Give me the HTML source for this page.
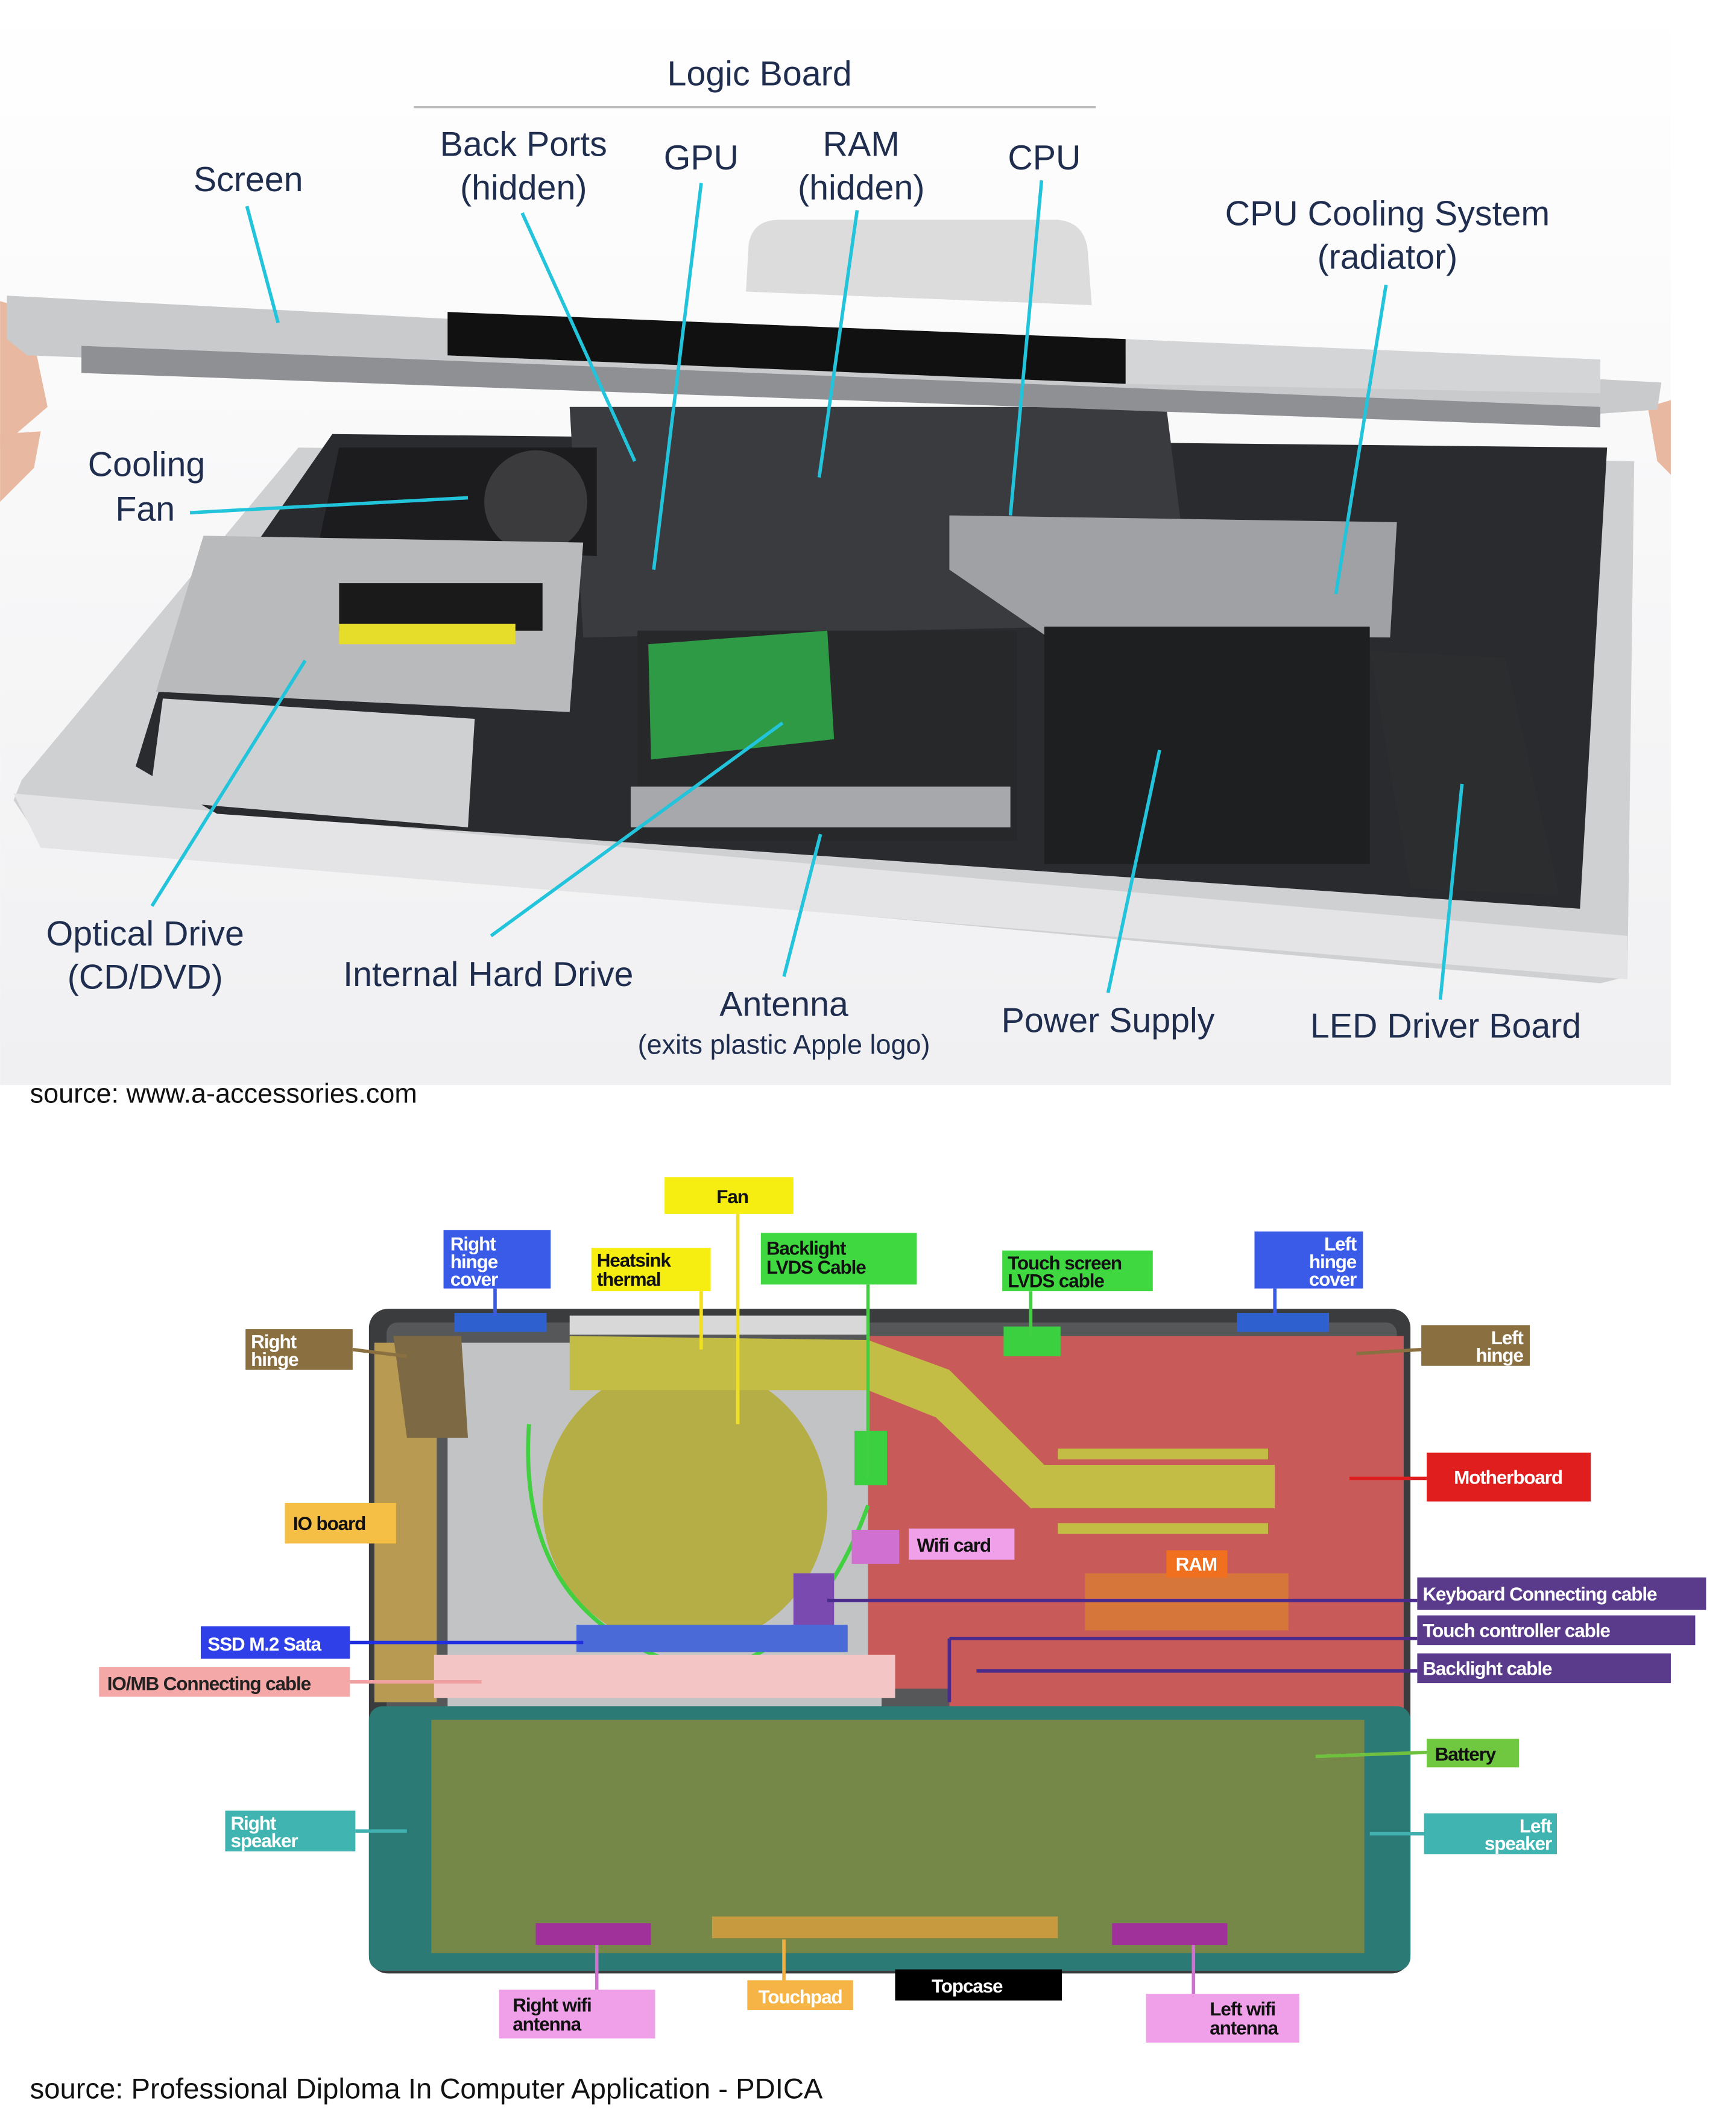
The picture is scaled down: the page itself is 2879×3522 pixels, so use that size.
<!DOCTYPE html>
<html><head><meta charset="utf-8"><style>
html,body{margin:0;padding:0;background:#fff;}
svg{display:block;}
text{font-family:"Liberation Sans",sans-serif;}
.n{fill:#1f2d4f;font-size:25.5px;text-anchor:middle;}
.c{stroke:#22c4dc;stroke-width:2.5;fill:none;}
.b{font-size:14px;font-weight:bold;letter-spacing:-0.5px;}
</style></head><body>
<svg width="2879" height="3522" viewBox="0 0 1280 1566" xmlns="http://www.w3.org/2000/svg">
<defs>
<linearGradient id="bg" x1="0" y1="0" x2="0" y2="1"><stop offset="0" stop-color="#ffffff"/><stop offset="1" stop-color="#f0f0f2"/></linearGradient>
</defs>
<rect width="1280" height="1566" fill="#fff"/>
<rect x="0" y="0" width="1232" height="800" fill="url(#bg)"/>
<!-- stand -->
<path d="M550,215 L552,180 Q555,162 575,162 L780,162 Q800,164 802,185 L805,225 Z" fill="#dcdcdc"/>
<!-- hands -->
<path d="M0,222 L20,228 L35,300 L0,330 Z" fill="#e8b9a0"/>
<path d="M0,320 L30,318 L25,345 L0,370 Z" fill="#e8b9a0"/>
<path d="M1215,300 L1232,295 L1232,350 L1222,340 Z" fill="#e8b9a0"/>
<!-- tray body -->
<path d="M220,330 L1205,340 L1200,720 L1180,725 L30,620 L10,590 L16,575 Z" fill="#cfd0d2"/>
<path d="M10,585 L1200,690 L1200,722 L30,625 Z" fill="#e4e4e6"/>
<!-- interior dark -->
<path d="M245,320 L1185,330 L1165,670 L160,600 L100,565 L120,500 Z" fill="#2a2b2e"/>
<!-- logic board -->
<path d="M420,300 L860,300 L880,460 L430,470 Z" fill="#3a3b3e"/>
<!-- fan area -->
<path d="M250,330 L440,330 L440,410 L235,400 Z" fill="#1c1c1e"/>
<circle cx="395" cy="370" r="38" fill="#3b3b3d"/>
<!-- optical drive -->
<path d="M150,395 L430,400 L420,525 L115,510 Z" fill="#b9babc"/>
<rect x="250" y="430" width="150" height="35" fill="#1a1a1a"/>
<rect x="250" y="460" width="130" height="15" fill="#e6dc2a"/>
<path d="M120,515 L350,530 L345,610 L110,590 Z" fill="#cfd0d2"/>
<!-- hdd -->
<rect x="470" y="465" width="280" height="155" fill="#27282a"/>
<path d="M478,475 L610,465 L615,545 L480,560 Z" fill="#2f9a45"/>
<rect x="465" y="580" width="280" height="30" fill="#a6a8ac"/>
<!-- cooling radiator -->
<path d="M700,380 L1030,385 L1025,470 L770,468 L700,420 Z" fill="#9fa1a4"/>
<!-- power supply -->
<rect x="770" y="462" width="240" height="175" fill="#1e1f21"/>
<!-- LED board -->
<path d="M1010,480 L1110,485 L1150,660 L1040,655 Z" fill="#2c2d2f"/>
<!-- screen lid -->
<path d="M5,218 L1225,282 L1222,302 L1180,305 L20,262 L5,250 Z" fill="#c9cacc"/>
<path d="M330,230 L830,250 L830,283 L330,262 Z" fill="#111"/>
<path d="M830,250 L1180,265 L1180,290 L830,283 Z" fill="#d4d5d7"/>
<path d="M60,255 L1180,300 L1180,315 L60,275 Z" fill="#8f9093"/>

<!-- top labels -->
<text class="n" x="560" y="63">Logic Board</text>
<line x1="305" y1="79" x2="808" y2="79" stroke="#bbb" stroke-width="1.5"/>
<text class="n" x="386" y="115">Back Ports</text><text class="n" x="386" y="147">(hidden)</text>
<text class="n" x="517" y="125">GPU</text>
<text class="n" x="635" y="115">RAM</text><text class="n" x="635" y="147">(hidden)</text>
<text class="n" x="770" y="125">CPU</text>
<text class="n" x="1023" y="166">CPU Cooling System</text><text class="n" x="1023" y="198">(radiator)</text>
<text class="n" x="183" y="141">Screen</text>
<text class="n" x="108" y="351">Cooling</text><text class="n" x="107" y="384">Fan</text>
<text class="n" x="107" y="697">Optical Drive</text><text class="n" x="107" y="729">(CD/DVD)</text>
<text class="n" x="360" y="727">Internal Hard Drive</text>
<text class="n" x="578" y="749">Antenna</text><text class="n" x="578" y="777" style="font-size:20px">(exits plastic Apple logo)</text>
<text class="n" x="817" y="761">Power Supply</text>
<text class="n" x="1066" y="765">LED Driver Board</text>
<g class="c">
<line x1="182" y1="152" x2="205" y2="238"/>
<line x1="385" y1="157" x2="468" y2="340"/>
<line x1="517" y1="135" x2="482" y2="420"/>
<line x1="632" y1="155" x2="604" y2="352"/>
<line x1="768" y1="133" x2="745" y2="380"/>
<line x1="1022" y1="210" x2="985" y2="438"/>
<line x1="140" y1="378" x2="345" y2="367"/>
<line x1="112" y1="668" x2="225" y2="487"/>
<line x1="362" y1="690" x2="577" y2="533"/>
<line x1="578" y1="720" x2="605" y2="615"/>
<line x1="817" y1="732" x2="855" y2="553"/>
<line x1="1062" y1="737" x2="1078" y2="578"/>
</g>
<text x="22" y="813" style="font-size:20px;fill:#111">source: www.a-accessories.com</text>

<!-- bottom laptop -->
<rect x="272" y="965" width="768" height="490" rx="14" fill="#3a3c3e"/>
<rect x="285" y="975" width="745" height="470" rx="8" fill="#555759"/>
<rect x="330" y="990" width="320" height="270" fill="#c2c3c5"/>
<rect x="420" y="970" width="220" height="14" fill="#d8d8d8"/>
<rect x="276" y="990" width="46" height="265" fill="#b89a52"/>
<path d="M290,985 L340,985 L345,1060 L300,1060 Z" fill="#7d6a45"/>
<path d="M640,985 L1035,985 L1035,1262 L700,1262 L700,1245 L640,1245 Z" fill="#c85a5a"/>
<rect x="800" y="1160" width="150" height="42" fill="#d7763a"/>
<circle cx="505" cy="1110" r="105" fill="#b5ad45"/>
<path d="M420,985 L640,988 L700,1010 L770,1080 L940,1080 L940,1112 L760,1112 L690,1045 L640,1025 L420,1025 Z" fill="#c3bc45"/>
<rect x="780" y="1068" width="155" height="8" fill="#c3bc45"/>
<rect x="780" y="1123" width="155" height="8" fill="#c3bc45"/>
<path d="M390,1050 Q380,1200 520,1232 Q600,1220 640,1110" stroke="#40d040" stroke-width="3" fill="none"/>
<rect x="628" y="1128" width="35" height="25" fill="#d070d0"/>
<rect x="585" y="1160" width="30" height="40" fill="#7a4ab0"/>
<rect x="630" y="1055" width="24" height="40" fill="#3ad040"/>
<rect x="740" y="978" width="42" height="22" fill="#3ad040"/>
<rect x="335" y="968" width="68" height="14" fill="#2f60d0"/>
<rect x="912" y="968" width="68" height="14" fill="#2f60d0"/>
<rect x="425" y="1198" width="200" height="20" fill="#4a6ad8"/>
<rect x="320" y="1220" width="340" height="32" fill="#f3c5c5"/>
<rect x="272" y="1258" width="768" height="195" rx="10" fill="#2b7a76"/>
<rect x="318" y="1268" width="688" height="172" fill="#768848"/>
<rect x="395" y="1418" width="85" height="16" fill="#a0309a"/>
<rect x="820" y="1418" width="85" height="16" fill="#a0309a"/>
<rect x="525" y="1413" width="255" height="16" fill="#c89a40"/>
<g stroke-width="2.5" fill="none">
<line x1="544" y1="895" x2="544" y2="1050" stroke="#f0e020"/>
<line x1="517" y1="952" x2="517" y2="995" stroke="#f0e020"/>
<line x1="365" y1="950" x2="365" y2="970" stroke="#3a5ae0"/>
<line x1="640" y1="947" x2="640" y2="1090" stroke="#40d040"/>
<line x1="760" y1="952" x2="760" y2="985" stroke="#40d040"/>
<line x1="940" y1="950" x2="940" y2="970" stroke="#3a5ae0"/>
<line x1="260" y1="995" x2="300" y2="1000" stroke="#8a7040"/>
<line x1="1048" y1="995" x2="1000" y2="998" stroke="#8a7040"/>
<line x1="1052" y1="1090" x2="995" y2="1090" stroke="#e02020"/>
<line x1="258" y1="1211" x2="430" y2="1211" stroke="#2030e0"/>
<line x1="258" y1="1240" x2="355" y2="1240" stroke="#f0a0a0"/>
<line x1="610" y1="1180" x2="1045" y2="1180" stroke="#4a2a8a"/>
<line x1="700" y1="1208" x2="1045" y2="1208" stroke="#4a2a8a"/>
<line x1="700" y1="1208" x2="700" y2="1255" stroke="#4a2a8a"/>
<line x1="720" y1="1232" x2="1045" y2="1232" stroke="#4a2a8a"/>
<line x1="1052" y1="1292" x2="970" y2="1295" stroke="#70c040"/>
<line x1="262" y1="1350" x2="300" y2="1350" stroke="#40b0b0"/>
<line x1="1050" y1="1352" x2="1010" y2="1352" stroke="#40b0b0"/>
<line x1="440" y1="1434" x2="440" y2="1467" stroke="#d070d0"/>
<line x1="880" y1="1434" x2="880" y2="1470" stroke="#d070d0"/>
<line x1="578" y1="1430" x2="578" y2="1460" stroke="#f0b040"/>
</g>
<rect x="490" y="868" width="95" height="27" fill="#f5ee10"/><text class="b" x="540" y="887" text-anchor="middle" fill="#111">Fan</text>
<rect x="436" y="920" width="88" height="32" fill="#f5ee10"/><text class="b" x="440" y="934" fill="#111">Heatsink</text><text class="b" x="440" y="948" fill="#111">thermal</text>
<rect x="327" y="907" width="79" height="43" fill="#3a5ae8"/><text class="b" x="332" y="922" fill="#fff">Right</text><text class="b" x="332" y="935" fill="#fff">hinge</text><text class="b" x="332" y="948" fill="#fff">cover</text>
<rect x="561" y="909" width="115" height="38" fill="#40d840"/><text class="b" x="565" y="925" fill="#111">Backlight</text><text class="b" x="565" y="939" fill="#111">LVDS Cable</text>
<rect x="739" y="922" width="111" height="30" fill="#40d840"/><text class="b" x="743" y="936" fill="#111">Touch screen</text><text class="b" x="743" y="949" fill="#111">LVDS cable</text>
<rect x="925" y="908" width="80" height="42" fill="#3a5ae8"/><text class="b" x="1000" y="922" text-anchor="end" fill="#fff">Left</text><text class="b" x="1000" y="935" text-anchor="end" fill="#fff">hinge</text><text class="b" x="1000" y="948" text-anchor="end" fill="#fff">cover</text>
<rect x="181" y="980" width="79" height="30" fill="#8a7040"/><text class="b" x="185" y="994" fill="#fff">Right</text><text class="b" x="185" y="1007" fill="#fff">hinge</text>
<rect x="1048" y="977" width="80" height="30" fill="#8a7040"/><text class="b" x="1123" y="991" text-anchor="end" fill="#fff">Left</text><text class="b" x="1123" y="1004" text-anchor="end" fill="#fff">hinge</text>
<rect x="1052" y="1071" width="121" height="36" fill="#e01e1e"/><text class="b" x="1112" y="1094" text-anchor="middle" fill="#fff">Motherboard</text>
<rect x="210" y="1108" width="82" height="30" fill="#f5bf45"/><text class="b" x="216" y="1128" fill="#111">IO board</text>
<rect x="670" y="1127" width="78" height="23" fill="#f0a0e8"/><text class="b" x="676" y="1144" fill="#111">Wifi card</text>
<rect x="860" y="1143" width="45" height="20" fill="#f07020"/><text class="b" x="882" y="1158" text-anchor="middle" fill="#fff">RAM</text>
<rect x="1045" y="1163" width="213" height="24" fill="#5a3a8a"/><text class="b" x="1049" y="1180" fill="#fff">Keyboard Connecting cable</text>
<rect x="1045" y="1191" width="205" height="22" fill="#5a3a8a"/><text class="b" x="1049" y="1207" fill="#fff">Touch controller cable</text>
<rect x="1045" y="1219" width="187" height="22" fill="#5a3a8a"/><text class="b" x="1049" y="1235" fill="#fff">Backlight cable</text>
<rect x="148" y="1199" width="110" height="24" fill="#3040e8"/><text class="b" x="153" y="1217" fill="#fff">SSD M.2 Sata</text>
<rect x="73" y="1229" width="185" height="22" fill="#f5a8a8"/><text class="b" x="79" y="1246" fill="#222">IO/MB Connecting cable</text>
<rect x="1052" y="1282" width="68" height="21" fill="#70c840"/><text class="b" x="1058" y="1298" fill="#111">Battery</text>
<rect x="166" y="1335" width="96" height="30" fill="#40b4b0"/><text class="b" x="170" y="1349" fill="#fff">Right</text><text class="b" x="170" y="1362" fill="#fff">speaker</text>
<rect x="1050" y="1337" width="98" height="30" fill="#40b4b0"/><text class="b" x="1144" y="1351" text-anchor="end" fill="#fff">Left</text><text class="b" x="1144" y="1364" text-anchor="end" fill="#fff">speaker</text>
<rect x="660" y="1452" width="123" height="23" fill="#000"/><text class="b" x="713" y="1469" text-anchor="middle" fill="#fff">Topcase</text>
<rect x="551" y="1460" width="78" height="22" fill="#f5b445"/><text class="b" x="590" y="1477" text-anchor="middle" fill="#fff">Touchpad</text>
<rect x="368" y="1467" width="115" height="36" fill="#f0a0e8"/><text class="b" x="378" y="1483" fill="#111">Right wifi</text><text class="b" x="378" y="1497" fill="#111">antenna</text>
<rect x="845" y="1470" width="113" height="36" fill="#f0a0e8"/><text class="b" x="892" y="1486" fill="#111">Left wifi</text><text class="b" x="892" y="1500" fill="#111">antenna</text>
<text x="22" y="1547" style="font-size:21px;fill:#111">source: Professional Diploma In Computer Application - PDICA</text>
</svg>
</body></html>
